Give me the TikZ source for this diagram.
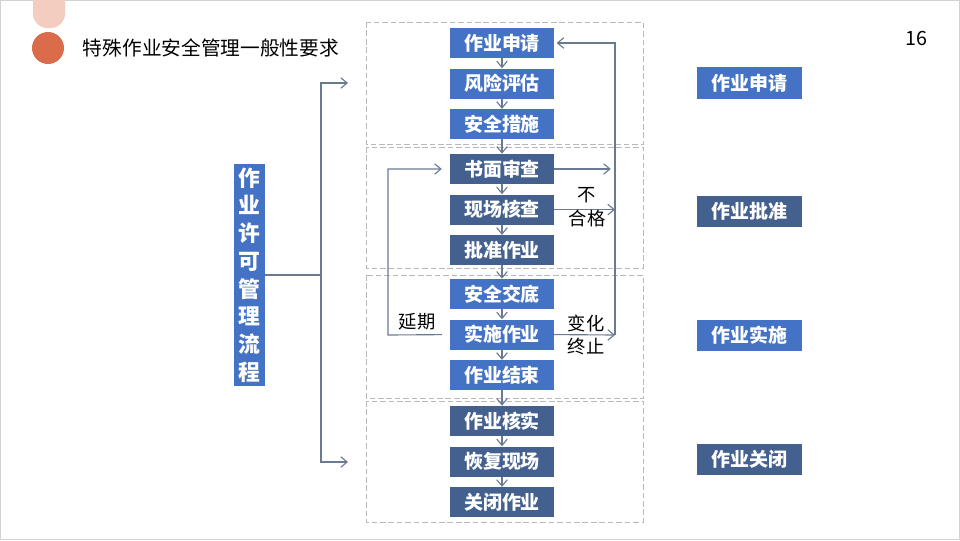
\documentclass[tikz,border=0pt]{standalone}
\usepackage{fontspec}
\setmainfont{Noto Sans CJK SC}
\usetikzlibrary{arrows.meta,positioning,calc}
\definecolor{lblue}{HTML}{4472C4}
\definecolor{dblue}{HTML}{43608F}
\definecolor{conn}{HTML}{6A7A92}
\definecolor{salmon}{HTML}{DA6C4C}
\definecolor{pale}{HTML}{F3CDBF}

\begin{document}
\begin{tikzpicture}[x=0.025cm,y=-0.025cm,>={Straight Barb[length=4.5pt,width=7.5pt]},
  stepA/.style={fill=lblue,text=white,font=\fontsize{13.5}{15}\selectfont\bfseries,minimum width=2.575cm,minimum height=0.75cm,inner sep=0pt},
  stepB/.style={stepA,fill=dblue},
  grp/.style={draw=gray!55,dash pattern=on 4pt off 2pt},
  lnk/.style={->,conn,line width=0.8pt},
  lbl/.style={font=\fontsize{13}{17}\selectfont,align=center,inner sep=0pt}]
\useasboundingbox (0,0) rectangle (960,540);
\draw[gray!35] (0.5,0.5) rectangle (959.5,539.5);

% header
\fill[pale,rounded corners=10pt] (33,-20) rectangle (65,28);
\fill[salmon] (48,48) circle (0.4cm);
\node[anchor=west,font=\fontsize{14}{16}\selectfont] (title) at (78,48) {特殊作业安全管理一般性要求};
\node[font=\fontsize{14}{16}\selectfont] (pg) at (916,38) {16};

% dashed stages
\draw[grp] (366,22) rectangle (643,144);
\draw[grp] (366,147) rectangle (643,268);
\draw[grp] (366,275) rectangle (643,398);
\draw[grp] (366,401) rectangle (643,522);

% flow column
\node[stepA] (s1) at (502,43) {作业申请};
\node[stepA,below=0.25cm of s1] (s2) {风险评估};
\node[stepA,below=0.25cm of s2] (s3) {安全措施};
\node[stepB] (s4) at (502,169) {书面审查};
\node[stepB,below=0.25cm of s4] (s5) {现场核查};
\node[stepB,below=0.25cm of s5] (s6) {批准作业};
\node[stepA] (s7) at (502,294) {安全交底};
\node[stepA,below=0.25cm of s7] (s8) {实施作业};
\node[stepA,below=0.25cm of s8] (s9) {作业结束};
\node[stepB] (s10) at (502,421) {作业核实};
\node[stepB,below=0.25cm of s10] (s11) {恢复现场};
\node[stepB,below=0.25cm of s11] (s12) {关闭作业};
\foreach \a/\b in {s1/s2,s2/s3,s3/s4,s4/s5,s5/s6,s6/s7,s7/s8,s8/s9,s9/s10,s10/s11,s11/s12}
  \draw[lnk] (\a) -- (\b);

% left title bar
\node[fill=lblue,text=white,font=\fontsize{15.5}{19.7}\selectfont\bfseries,align=center,
  minimum width=0.775cm,minimum height=5.55cm,inner sep=0pt] (main) at (249.5,275)
  {作\\业\\许\\可\\管\\理\\流\\程};
\coordinate (br) at (321,275);
\coordinate (bte) at (348,83);
\coordinate (bbe) at (348,462);
\draw[conn,line width=0.8pt] (main.east) -- (br);
\draw[lnk] (br) |- (bte);
\draw[lnk] (br) |- (bbe);

% feedback loops
\coordinate (rb) at (615,335);
\coordinate (lb) at (388,335);
\draw[lnk,shorten >=2pt] (rb) |- (s1.east);
\draw[lnk,shorten >=3pt] (s4.east) -- (s4.east -| rb);
\draw[lnk] (s5.east) -- (s5.east -| rb);
\draw[lnk] (s8.east) -- (rb);
\draw[lnk,shorten >=6pt,shorten <=6pt] (s8.west) -- (lb) |- (s4.west);
\node[lbl] (bhg) at (587,207) {不\\合格};
\node[lbl] (bh) at (586,335) {变化\\终止};
\node[lbl] (yq) at (417,322) {延期};

% stage labels
\node[stepA,minimum width=2.625cm,minimum height=0.775cm] (p1) at (749.5,83) {作业申请};
\node[stepB,minimum width=2.625cm,minimum height=0.775cm] (p2) at (749.5,211) {作业批准};
\node[stepA,minimum width=2.625cm,minimum height=0.775cm] (p3) at (749.5,335) {作业实施};
\node[stepB,minimum width=2.625cm,minimum height=0.775cm] (p4) at (749.5,459) {作业关闭};
\end{tikzpicture}
\end{document}
